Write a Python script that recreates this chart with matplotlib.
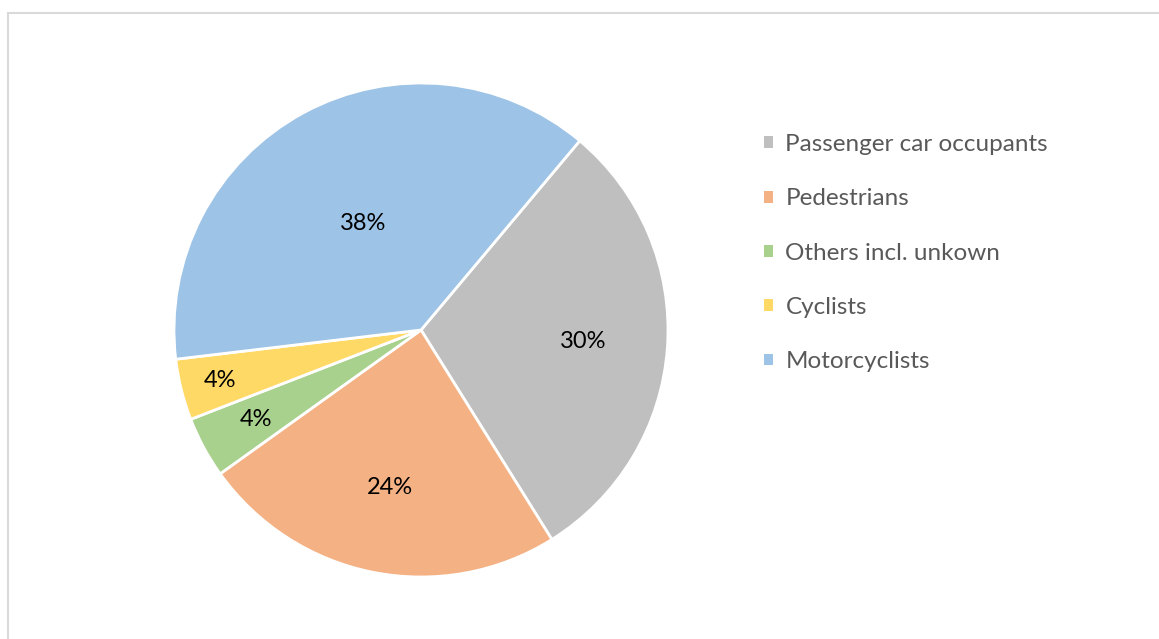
import matplotlib.pyplot as plt
from matplotlib.patches import Patch, Rectangle
import numpy as np

plt.rcParams['font.family'] = ['Lato', 'DejaVu Sans']

categories = ['Passenger car occupants', 'Pedestrians', 'Others incl. unkown',
              'Cyclists', 'Motorcyclists']
shares = [30, 24, 4, 4, 38]
colors = ['#BFBFBF', '#F4B183', '#A9D18E', '#FFD966', '#9DC3E6']
label_dist = [0.66, 0.65, 0.76, 0.84, 0.49]

W, H = 1159, 639
fig = plt.figure(figsize=(W / 100, H / 100), dpi=100)

# light frame around the chart area
fig.patches.append(Rectangle((8 / W, -0.05), 1.1, 1 - 13 / H + 0.05,
                             transform=fig.transFigure, fill=False,
                             edgecolor='#D9D9D9', linewidth=1.5))

cx, cy, r = 421, 330, 247
ax = fig.add_axes([(cx - r) / W, (H - cy - r) / H, 2 * r / W, 2 * r / H])
wedges, _ = ax.pie(shares, colors=colors, startangle=50, counterclock=False,
                   radius=1, wedgeprops=dict(edgecolor='white', linewidth=2))
ax.set_xlim(-1, 1)
ax.set_ylim(-1, 1)
ax.set_aspect('auto')
ax.axis('off')

for w, v, d in zip(wedges, shares, label_dist):
    mid = np.deg2rad((w.theta1 + w.theta2) / 2)
    ax.text(d * np.cos(mid), d * np.sin(mid), f'{v}%', ha='center', va='center',
            fontsize=17, color='#000000')

handles = [Patch(facecolor=c, edgecolor='none') for c in colors]
leg = fig.legend(handles, categories, loc='upper left',
                 bbox_to_anchor=(764 / W, 1 - 134 / H), frameon=False,
                 borderpad=0, borderaxespad=0,
                 fontsize=17.5, labelcolor='#595959', handlelength=0.38,
                 handleheight=0.38, handletextpad=0.5, labelspacing=1.37)

fig.savefig('out.png', dpi=100)
